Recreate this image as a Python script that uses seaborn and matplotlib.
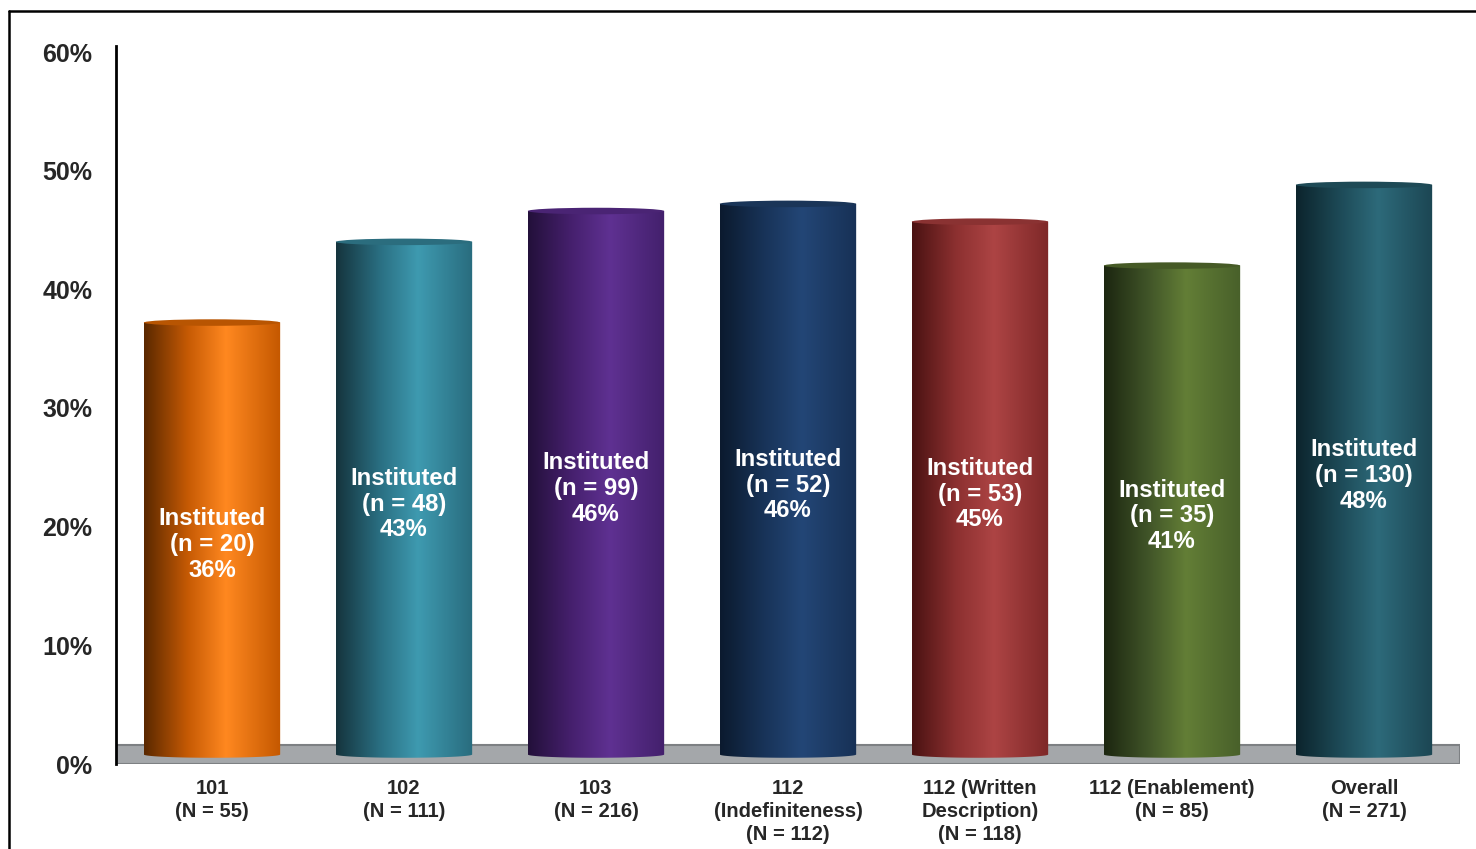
import numpy as np
import pandas as pd
import matplotlib
matplotlib.use("Agg")
import matplotlib.pyplot as plt
import seaborn as sns
from matplotlib.patches import Rectangle, Ellipse, PathPatch
from matplotlib.path import Path
from matplotlib.lines import Line2D
from matplotlib.ticker import PercentFormatter
from matplotlib.colors import to_rgb

# ---- data ----
categories = ["101\n(N = 55)", "102\n(N = 111)", "103\n(N = 216)",
              "112\n(Indefiniteness)\n(N = 112)", "112 (Written\nDescription)\n(N = 118)",
              "112 (Enablement)\n(N = 85)", "Overall\n(N = 271)"]
instituted_n = [20, 48, 99, 52, 53, 35, 130]
rates = [0.364, 0.432, 0.458, 0.464, 0.449, 0.412, 0.480]
rate_labels = ["36%", "43%", "46%", "46%", "45%", "41%", "48%"]
y_ticks = [0.0, 0.1, 0.2, 0.3, 0.4, 0.5, 0.6]

# ---- styles ----
# gradient stops (left edge, shade, highlight, right edge) per bar
grad_colors = [
    ["#5a2800", "#c65a04", "#ff8820", "#c45800"],
    ["#15343d", "#2a6f82", "#3e9ab0", "#296c7e"],
    ["#23103a", "#46206e", "#5f3192", "#43206c"],
    ["#0b1a2e", "#183358", "#234676", "#173156"],
    ["#4a1212", "#8c3030", "#ad4444", "#7e2828"],
    ["#1c2610", "#405428", "#637e36", "#48602a"],
    ["#0c242c", "#1d4a57", "#2d6a7a", "#1c4653"],
]
cap_colors = ["#b85502", "#2b6d7e", "#4a2474", "#1a3558", "#8a3232", "#465a26", "#1e4a56"]
stops = [0.0, 0.32, 0.6, 1.0]
DEPTH = 0.008  # 3D floor offset
BAR_W = 0.71

W, H = 1476, 849
fig = plt.figure(figsize=(W / 100, H / 100), dpi=100)
sns.set_style("white")
plt.rcParams["font.family"] = ["Liberation Sans", "DejaVu Sans"]

ax = fig.add_axes([116 / W, 1 - 764 / H, (1460 - 116) / W, (764 - 52) / H])

df = pd.DataFrame({"cat": categories, "rate": rates})
sns.barplot(data=df, x="cat", y="rate", hue="cat", palette=[g[2] for g in grad_colors],
            legend=False, width=BAR_W, ax=ax, saturation=1, zorder=2)

ax.set_xlim(-0.5, 6.5)
ax.set_ylim(0, 0.6)

# floor
floor = Rectangle((-0.5, 0), 7.0, 0.016, facecolor="#a4a7aa", edgecolor="#7d8083",
                  linewidth=1.5, zorder=1)
ax.add_patch(floor)

eh = 0.0055
bars = [p for p in ax.patches if isinstance(p, Rectangle) and p is not floor]
bars = sorted(bars, key=lambda p: p.get_x())
for i, p in enumerate(bars):
    p.set_y(DEPTH)
    p.set_alpha(0)
    x0 = p.get_x(); w = p.get_width(); x1 = x0 + w
    top = DEPTH + p.get_height()
    cols = np.array([to_rgb(c) for c in grad_colors[i]])
    t = np.linspace(0, 1, 256)
    arr = np.stack([np.interp(t, stops, cols[:, k]) for k in range(3)], axis=-1)[None, :, :]
    th = np.linspace(np.pi, 2 * np.pi, 40)
    xs = x0 + w / 2 + (w / 2) * np.cos(th)
    ys = DEPTH + (eh / 2) * np.sin(th)
    verts = [(x0, top)] + list(zip(xs, ys)) + [(x1, top), (x0, top)]
    codes = [Path.MOVETO] + [Path.LINETO] * (len(verts) - 2) + [Path.CLOSEPOLY]
    clip = PathPatch(Path(verts, codes), transform=ax.transData, facecolor="none",
                     edgecolor="none")
    ax.add_patch(clip)
    im = ax.imshow(arr, extent=[x0, x1, DEPTH - eh, top], aspect="auto", zorder=3,
                   interpolation="bilinear")
    im.set_clip_path(clip)
    ax.add_patch(Ellipse((x0 + w / 2, top), w, eh, facecolor=cap_colors[i],
                         edgecolor="none", zorder=4))
    ax.text(x0 + w / 2, DEPTH / 2 + p.get_height() / 2 - 0.001,
            f"Instituted\n(n = {instituted_n[i]})\n{rate_labels[i]}",
            ha="center", va="center", color="white", fontsize=17.2, fontweight="bold",
            linespacing=1.15, zorder=6)

ax.set_xlim(-0.5, 6.5)
ax.set_ylim(0, 0.6)
ax.set_yticks(y_ticks)
ax.yaxis.set_major_formatter(PercentFormatter(xmax=1, decimals=0))
ax.set_xticks(range(7))
ax.set_xticklabels(categories, fontsize=14.5, fontweight="bold", linespacing=1.25)
for lab in ax.get_yticklabels():
    lab.set_fontweight("bold"); lab.set_fontsize(18)
ax.tick_params(axis="y", length=0, pad=17)
ax.tick_params(axis="x", length=0, pad=11)
ax.set_xlabel(""); ax.set_ylabel("")
for s in ["top", "right", "bottom"]:
    ax.spines[s].set_visible(False)
ax.spines["left"].set_color("black")
ax.spines["left"].set_linewidth(2)
ax.spines["left"].set_zorder(7)
ax.spines["left"].set_bounds(0, 0.605)
ax.set_facecolor("white")

# outer frame
fig.add_artist(Line2D([9 / W, 1.0], [1 - 11 / H, 1 - 11 / H], color="black", linewidth=1.8,
                      transform=fig.transFigure))
fig.add_artist(Line2D([9 / W, 9 / W], [0, 1 - 11 / H], color="black", linewidth=1.8,
                      transform=fig.transFigure))

fig.savefig("out.png", dpi=100)
